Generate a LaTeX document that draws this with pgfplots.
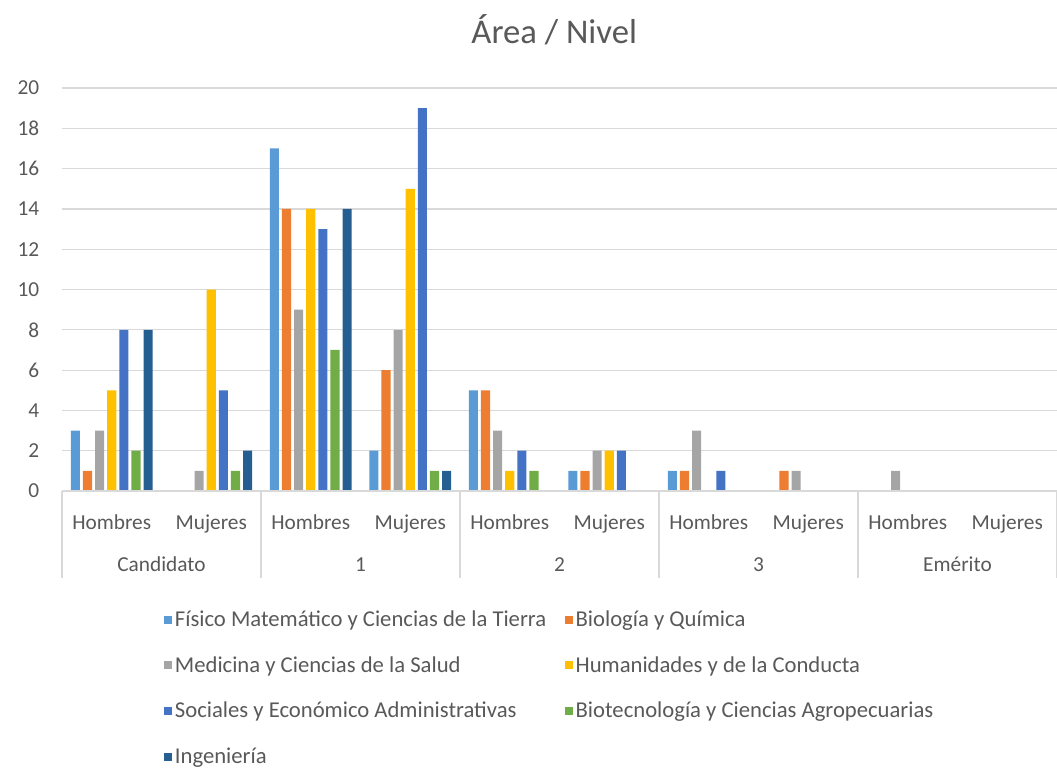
\documentclass[border=0pt]{standalone}
\usepackage{pgfplots}
\pgfplotsset{compat=1.18}
\usepackage{pgfplotstable}
\usepackage{fontspec}
\setmainfont{Carlito}
\definecolor{txt}{HTML}{595959}
\definecolor{grd}{HTML}{D9D9D9}
\definecolor{c1}{HTML}{5B9BD5}
\definecolor{c2}{HTML}{ED7D31}
\definecolor{c3}{HTML}{A5A5A5}
\definecolor{c4}{HTML}{FFC000}
\definecolor{c5}{HTML}{4472C4}
\definecolor{c6}{HTML}{70AD47}
\definecolor{c7}{HTML}{255E91}
\pgfplotstableread{
x FM Bio Med Hum Soc Biot Ing
0 3 1 3 5 8 2 8
1 0 0 1 10 5 1 2
2 17 14 9 14 13 7 14
3 2 6 8 15 19 1 1
4 5 5 3 1 2 1 0
5 1 1 2 2 2 0 0
6 1 1 3 0 1 0 0
7 0 1 1 0 0 0 0
8 0 0 1 0 0 0 0
9 0 0 0 0 0 0 0
}\data
\begin{document}
\begin{tikzpicture}
\useasboundingbox (-46.5pt,-207.75pt) rectangle (746.25pt,368.25pt);
\begin{axis}[
  at={(0,0)}, anchor=south west,
  scale only axis, width=746.25pt, height=302.25pt,
  xmin=-0.5, xmax=9.5, ymin=0, ymax=20,
  ytick={0,2,...,20},
  xtick={0,...,9},
  xticklabels={Hombres,Mujeres,Hombres,Mujeres,Hombres,Mujeres,Hombres,Mujeres,Hombres,Mujeres},
  ymajorgrids, grid style={grd, line width=0.9pt},
  axis line style={draw=none},
  major tick length=0pt,
  tick label style={font=\fontsize{16}{19}\selectfont, text=txt},
  /pgf/number format/assume math mode=true,
  xticklabel style={anchor=base, yshift=-28.5pt},
  yticklabel style={xshift=-13.5pt},
  ybar, bar width=6.8pt,
  clip=false,
  title={Área / Nivel},
  title style={font=\fontsize{26}{30}\selectfont, text=txt, anchor=center, at={(0.5,1)}, yshift=37.5pt, xshift=-4pt},
  legend columns=2,
  legend cell align=left,
  legend style={at={(0.0985,-0.283)}, anchor=north west, draw=none, fill=none,
    font=\fontsize{17}{20}\selectfont, text=txt, row sep=17pt,
    /tikz/every even column/.append style={column sep=12pt},
    /tikz/every odd column/.append style={column sep=0pt}},
  legend image code/.code={\fill (0pt,-3pt) rectangle (6pt,3pt);},
]
\addplot[fill=c1, draw=none, bar shift=-27.3pt] table[x=x,y=FM] {\data};
\addlegendentry{Físico Matemático y Ciencias de la Tierra}
\addplot[fill=c2, draw=none, bar shift=-18.2pt] table[x=x,y=Bio] {\data};
\addlegendentry{Biología y Química}
\addplot[fill=c3, draw=none, bar shift=-9.1pt] table[x=x,y=Med] {\data};
\addlegendentry{Medicina y Ciencias de la Salud}
\addplot[fill=c4, draw=none, bar shift=0pt] table[x=x,y=Hum] {\data};
\addlegendentry{Humanidades y de la Conducta}
\addplot[fill=c5, draw=none, bar shift=9.1pt] table[x=x,y=Soc] {\data};
\addlegendentry{Sociales y Económico Administrativas}
\addplot[fill=c6, draw=none, bar shift=18.2pt] table[x=x,y=Biot] {\data};
\addlegendentry{Biotecnología y Ciencias Agropecuarias}
\addplot[fill=c7, draw=none, bar shift=27.3pt] table[x=x,y=Ing] {\data};
\addlegendentry{Ingeniería}
\draw[grd, line width=0.9pt] (axis cs:-0.5,0) -- (axis cs:9.5,0);
\pgfplotsinvokeforeach{-0.5,1.5,3.5,5.5,7.5,9.5}{
  \draw[grd, line width=0.9pt] (axis cs:#1,0) -- ([yshift=-65.25pt]axis cs:#1,0);
}
\node[font=\fontsize{16}{19}\selectfont, text=txt, anchor=base] at ([yshift=-60pt]axis cs:0.5,0) {Candidato};
\node[font=\fontsize{16}{19}\selectfont, text=txt, anchor=base] at ([yshift=-60pt]axis cs:2.5,0) {1};
\node[font=\fontsize{16}{19}\selectfont, text=txt, anchor=base] at ([yshift=-60pt]axis cs:4.5,0) {2};
\node[font=\fontsize{16}{19}\selectfont, text=txt, anchor=base] at ([yshift=-60pt]axis cs:6.5,0) {3};
\node[font=\fontsize{16}{19}\selectfont, text=txt, anchor=base] at ([yshift=-60pt]axis cs:8.5,0) {Emérito};
\end{axis}
\end{tikzpicture}
\end{document}
